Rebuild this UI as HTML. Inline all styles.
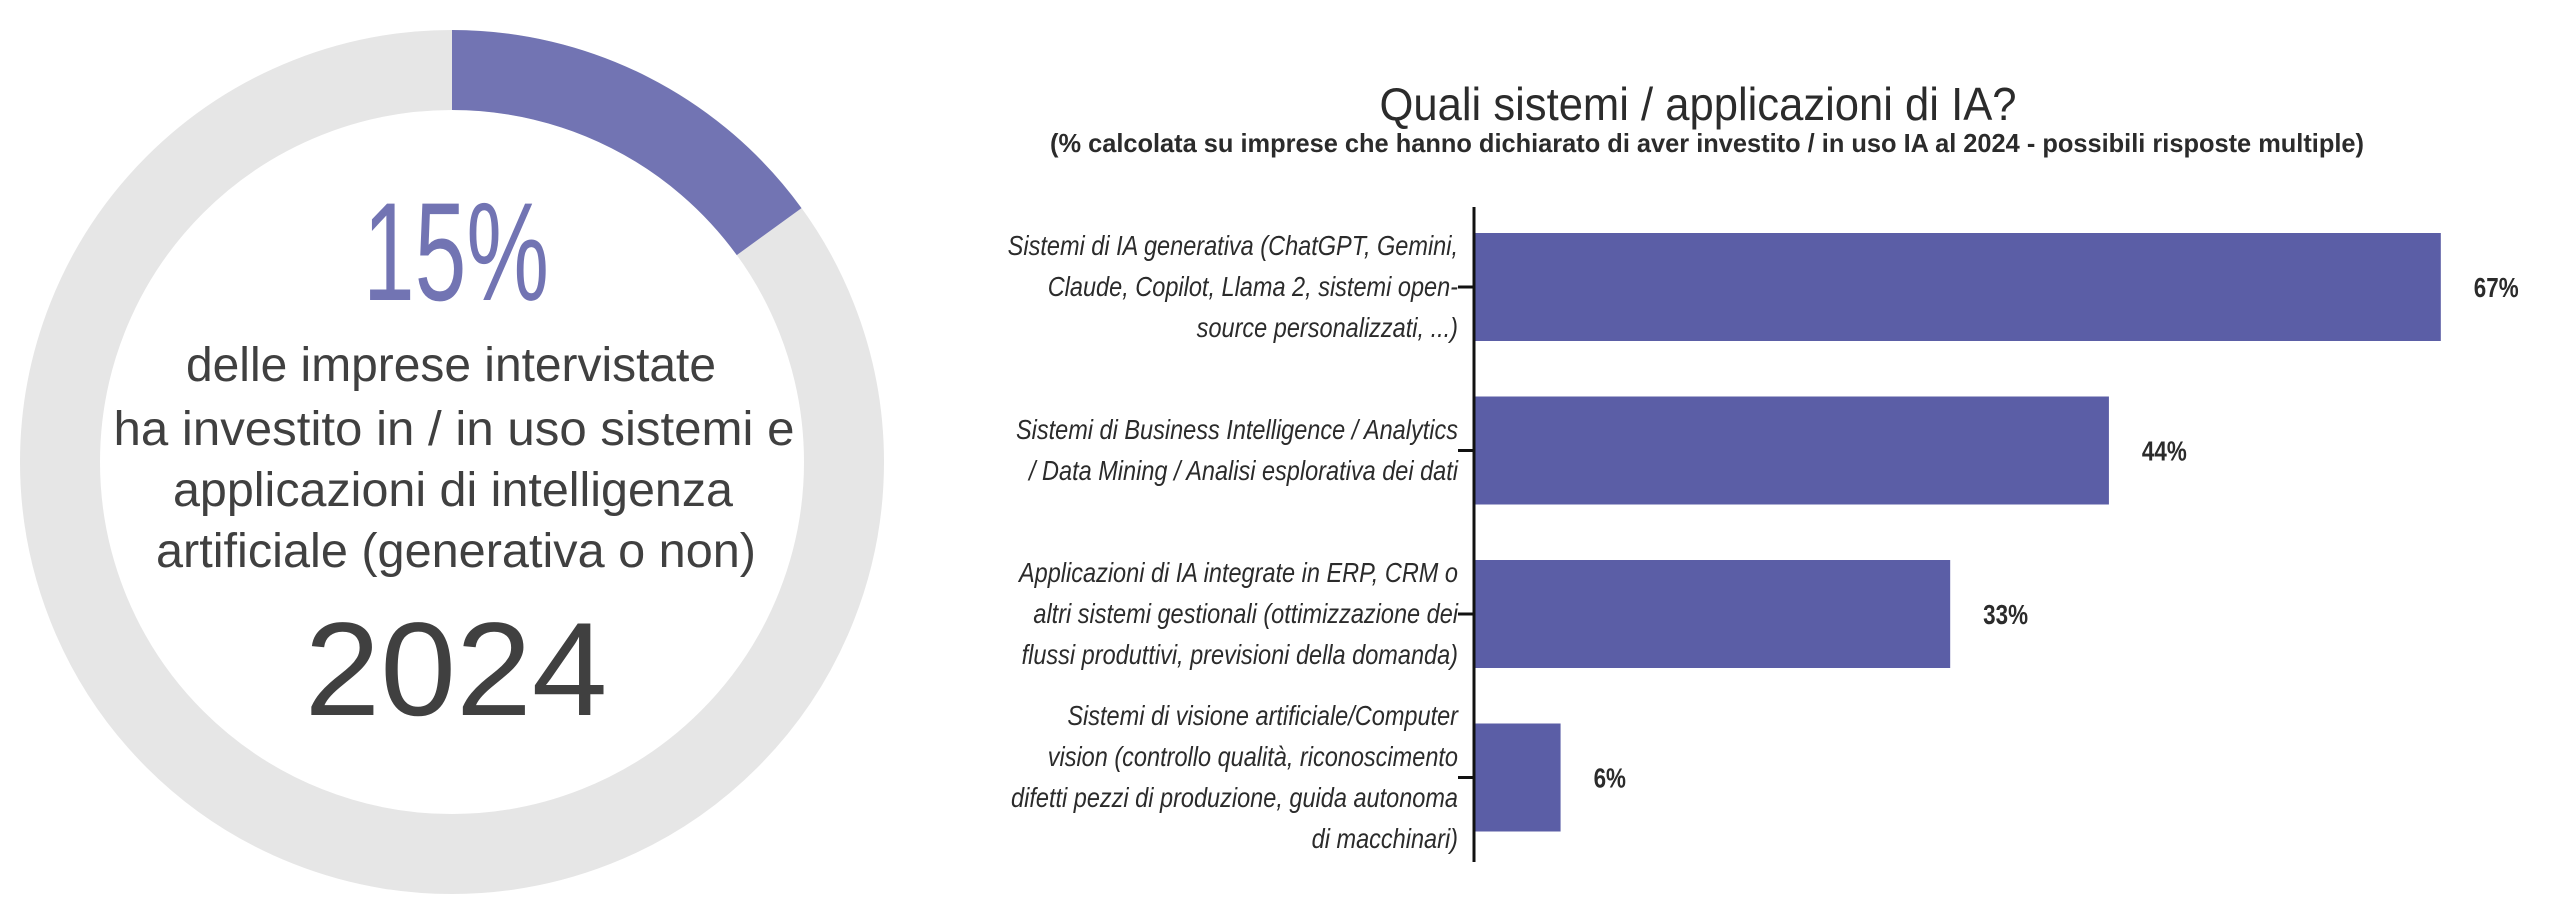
<!DOCTYPE html>
<html><head><meta charset="utf-8"><style>
html,body{margin:0;padding:0;background:#fff;}
svg{display:block;}
text{font-family:"Liberation Sans",sans-serif;}
</style></head><body>
<svg id="root" width="2560" height="919" viewBox="0 0 2560 919" xmlns="http://www.w3.org/2000/svg">
  <g>
    <circle cx="452" cy="462" r="392" fill="none" stroke="#e6e6e6" stroke-width="80"/>
    <path id="donutArc" fill="none" stroke="#7274b3" stroke-width="80"/>
    <text x="456" y="300" font-size="140" fill="#7274b3" text-anchor="middle" textLength="186" lengthAdjust="spacingAndGlyphs">15%</text>
    <g fill="#404040" font-size="48" text-anchor="middle">
      <text x="451" y="381" textLength="530" lengthAdjust="spacingAndGlyphs">delle imprese intervistate</text>
      <text x="454" y="445" textLength="681" lengthAdjust="spacingAndGlyphs">ha investito in / in uso sistemi e</text>
      <text x="453" y="506" textLength="560" lengthAdjust="spacingAndGlyphs">applicazioni di  intelligenza</text>
      <text x="456" y="567" textLength="600" lengthAdjust="spacingAndGlyphs">artificiale (generativa o non)</text>
    </g>
    <text x="456" y="715" font-size="133" fill="#404040" text-anchor="middle" textLength="303" lengthAdjust="spacingAndGlyphs">2024</text>
  </g>
  <g>
    <text x="1698" y="120" font-size="46" fill="#2b2b2b" text-anchor="middle" textLength="637" lengthAdjust="spacingAndGlyphs">Quali sistemi / applicazioni di IA?</text>
    <text x="1707" y="152" font-size="26" font-weight="600" fill="#2b2b2b" text-anchor="middle" textLength="1314" lengthAdjust="spacingAndGlyphs">(% calcolata su imprese che hanno dichiarato di aver investito / in uso IA al 2024 - possibili risposte multiple)</text>
    <g id="plot"></g>
  </g>
</svg>
<script>
const donutShare = 15;
const categories = [
  ["Sistemi di IA generativa (ChatGPT, Gemini,","Claude, Copilot, Llama 2, sistemi open-","source personalizzati, ...)"],
  ["Sistemi di Business Intelligence / Analytics","/ Data Mining / Analisi esplorativa dei dati"],
  ["Applicazioni di IA integrate in ERP, CRM o","altri sistemi gestionali (ottimizzazione dei","flussi produttivi, previsioni della domanda)"],
  ["Sistemi di visione artificiale/Computer","vision (controllo qualità, riconoscimento","difetti pezzi di produzione, guida autonoma","di macchinari)"]
];
const values = [67, 44, 33, 6];
const valueLabels = ["67%", "44%", "33%", "6%"];

const NS = "http://www.w3.org/2000/svg";
(function(){
  const cx=452, cy=462, r=392;
  const a = donutShare/100*2*Math.PI;
  const x = cx + r*Math.sin(a), y = cy - r*Math.cos(a);
  const large = donutShare>50?1:0;
  document.getElementById('donutArc').setAttribute('d',`M${cx} ${cy-r} A${r} ${r} 0 ${large} 1 ${x} ${y}`);
})();

const x0 = 1474, pxPerPct = 14.43;
const xScale = v => x0 + v*pxPerPct;
const firstCenter = 287, step = 163.5, barH = 108;
const yScale = i => firstCenter + i*step;
const plot = document.getElementById('plot');
function mk(tag, attrs){ const e=document.createElementNS(NS,tag); for(const k in attrs) e.setAttribute(k,attrs[k]); return e; }

const axis = mk('line',{x1:x0,x2:x0,y1:207,y2:862,stroke:'#111','stroke-width':3});


plot.appendChild(axis);

values.forEach((v,i)=>{
  const cy = yScale(i);
  const bar = mk('rect',{x:x0+1.5,y:cy-barH/2,width:xScale(v)-x0-1.5,height:barH,fill:'#5b5ea6'});
  
  
  plot.appendChild(bar);

  const tick = mk('line',{x1:x0-16,x2:x0,y1:cy,y2:cy,stroke:'#111','stroke-width':3});
  
  
  plot.appendChild(tick);

  const val = mk('text',{x:xScale(v)+33,y:cy+10,'font-size':28,'font-weight':'bold',fill:'#2b2b2b'});
  val.textContent = valueLabels[i];
  val.setAttribute('transform',`translate(${xScale(v)+33} 0) scale(0.8 1) translate(${-(xScale(v)+33)} 0)`);
  
  
  plot.appendChild(val);

  const lines = categories[i];
  const n = lines.length;
  lines.forEach((ln,j)=>{
    const ly = cy + (j-(n-1)/2)*41 + 9;
    const t = mk('text',{x:0,y:0,'font-size':28,'font-style':'italic',fill:'#2b2b2b','text-anchor':'end'});
    t.setAttribute('transform',`translate(1458 ${ly}) scale(0.84 1)`);
    t.textContent = ln;
    
    
    plot.appendChild(t);
  });
});
</script>
</body></html>
